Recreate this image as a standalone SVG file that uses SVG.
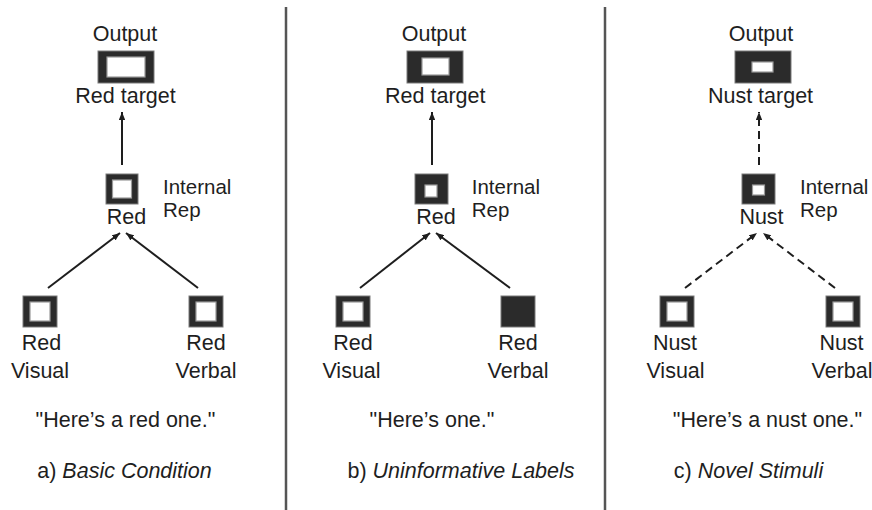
<svg xmlns="http://www.w3.org/2000/svg" width="872" height="510" viewBox="0 0 872 510">
<style>
text{font-family:"Liberation Sans",Arial,sans-serif;font-size:21.5px;fill:#1e1e1e}
.m{text-anchor:middle}
.it{font-style:italic}
.lb{font-size:20.5px}
.ob{fill:#2b2b2b;stroke:#7a7a7a;stroke-width:1}
.ib{fill:#fff;stroke:#9a9a9a;stroke-width:1.2}
.ln{stroke:#1e1e1e;stroke-width:2;fill:none}
.ds{stroke-dasharray:8,5}
.div{stroke:#555;stroke-width:2.5}
</style>
<defs>
<marker id="ah" viewBox="0 0 10 8" refX="10" refY="4" markerWidth="8" markerHeight="6.4" markerUnits="userSpaceOnUse" orient="auto">
<path d="M0,0 L10,4 L0,8 z" fill="#1e1e1e"/>
</marker>
</defs>
<rect width="872" height="510" fill="#fff"/>
<g id="dividers">
<line class="div" x1="286" y1="7" x2="286" y2="510"/>
<line class="div" x1="605" y1="7" x2="605" y2="510"/>
</g>
<g id="connectors">
<line class="ln" x1="122" y1="165" x2="122" y2="112" marker-end="url(#ah)"/>
<line class="ln" x1="48" y1="288" x2="120" y2="233" marker-end="url(#ah)"/>
<line class="ln" x1="198" y1="288" x2="126" y2="233" marker-end="url(#ah)"/>
<line class="ln" x1="432" y1="165" x2="432" y2="112" marker-end="url(#ah)"/>
<line class="ln" x1="360" y1="288" x2="430" y2="233" marker-end="url(#ah)"/>
<line class="ln" x1="510" y1="288" x2="436" y2="233" marker-end="url(#ah)"/>
<line class="ln ds" x1="759" y1="165" x2="759" y2="112" marker-end="url(#ah)"/>
<line class="ln ds" x1="685" y1="288" x2="757" y2="233" marker-end="url(#ah)"/>
<line class="ln ds" x1="835" y1="288" x2="763" y2="233" marker-end="url(#ah)"/>
</g>
<g id="a-output">
<text class="m" x="125" y="41">Output</text>
<rect class="ob" x="98" y="51" width="56" height="32"/>
<rect class="ib" x="107" y="57" width="38" height="20"/>
<text class="m" x="125.5" y="103">Red target</text>
</g>
<g id="a-internal">
<rect class="ob" x="106" y="174" width="32" height="30"/>
<rect class="ib" x="112.5" y="180" width="19" height="18"/>
<text class="m" x="126.5" y="224">Red</text>
<text class="lb" x="163" y="194">Internal</text>
<text class="lb" x="163" y="217">Rep</text>
</g>
<g id="a-visual">
<rect class="ob" x="23" y="296" width="34" height="31"/>
<rect class="ib" x="30" y="302" width="20" height="19"/>
<text class="m" x="41.5" y="350">Red</text>
<text class="m" x="40" y="378">Visual</text>
</g>
<g id="a-verbal">
<rect class="ob" x="189" y="296" width="34" height="31"/>
<rect class="ib" x="196" y="302" width="20" height="19"/>
<text class="m" x="206" y="350">Red</text>
<text class="m" x="206" y="378">Verbal</text>
</g>
<g id="a-caption">
<text class="m" x="125.5" y="427">"Here’s a red one."</text>
<text class="m" x="124.5" y="478">a) <tspan class="it">Basic Condition</tspan></text>
</g>
<g id="b-output">
<text class="m" x="434" y="41">Output</text>
<rect class="ob" x="407" y="51" width="56" height="32"/>
<rect class="ib" x="422" y="58" width="27" height="17"/>
<text class="m" x="435.3" y="103">Red target</text>
</g>
<g id="b-internal">
<rect class="ob" x="415" y="174" width="33" height="30"/>
<rect class="ib" x="425" y="185" width="12" height="12"/>
<text class="m" x="436" y="224">Red</text>
<text class="lb" x="471.7" y="194">Internal</text>
<text class="lb" x="471.7" y="217">Rep</text>
</g>
<g id="b-visual">
<rect class="ob" x="336" y="296" width="34" height="31"/>
<rect class="ib" x="343" y="302" width="20" height="19"/>
<text class="m" x="353" y="350">Red</text>
<text class="m" x="351.5" y="378">Visual</text>
</g>
<g id="b-verbal">
<rect class="ob" x="501" y="296" width="34" height="31"/>
<text class="m" x="518" y="350">Red</text>
<text class="m" x="518" y="378">Verbal</text>
</g>
<g id="b-caption">
<text class="m" x="432" y="427">"Here’s one."</text>
<text class="m" x="461" y="478">b) <tspan class="it">Uninformative Labels</tspan></text>
</g>
<g id="c-output">
<text class="m" x="761" y="41">Output</text>
<rect class="ob" x="735" y="51" width="56" height="32"/>
<rect class="ib" x="752" y="62" width="21" height="10"/>
<text class="m" x="760.5" y="103">Nust target</text>
</g>
<g id="c-internal">
<rect class="ob" x="742" y="174" width="33" height="30"/>
<rect class="ib" x="752.5" y="185" width="12" height="10"/>
<text class="m" x="761.5" y="224">Nust</text>
<text class="lb" x="800" y="194">Internal</text>
<text class="lb" x="800" y="217">Rep</text>
</g>
<g id="c-visual">
<rect class="ob" x="660" y="296" width="34" height="31"/>
<rect class="ib" x="667" y="302" width="20" height="19"/>
<text class="m" x="675" y="350">Nust</text>
<text class="m" x="675.5" y="378">Visual</text>
</g>
<g id="c-verbal">
<rect class="ob" x="826" y="296" width="34" height="31"/>
<rect class="ib" x="833" y="302" width="20" height="19"/>
<text class="m" x="841.5" y="350">Nust</text>
<text class="m" x="842" y="378">Verbal</text>
</g>
<g id="c-caption">
<text class="m" x="767.5" y="427">"Here’s a nust one."</text>
<text class="m" x="748.5" y="478">c) <tspan class="it">Novel Stimuli</tspan></text>
</g>
</svg>
